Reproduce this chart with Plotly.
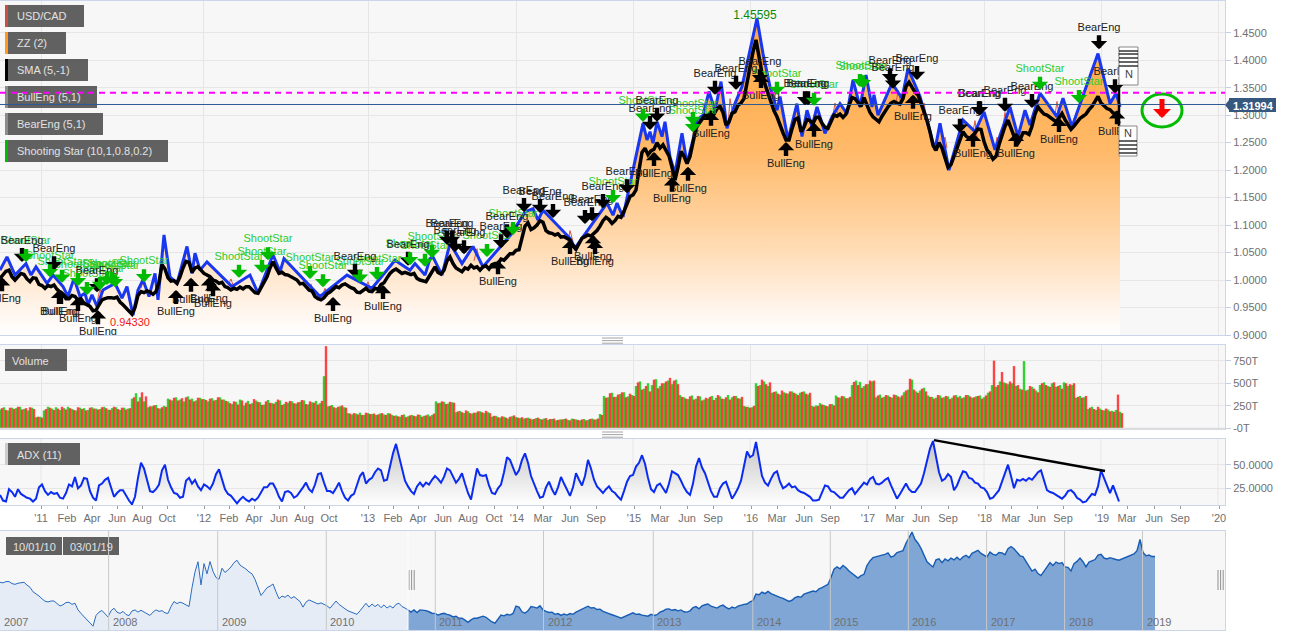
import plotly.graph_objects as go

W, H, PR = 1295, 631, 1225

# ---- time slots (bar positions) ----
tick_slots = [41,67,92,117,142,167,204,229,254,279,304,329,368,393,418,443,468,494,517,543,570,596,634,660,687,713,751,777,804,830,868,895,921,948,985,1011,1037,1063,1102,1127,1154,1180,1219]
tick_labels = ["'11","Feb","Apr","Jun","Aug","Oct","'12","Feb","Apr","Jun","Aug","Oct","'13","Feb","Apr","Jun","Aug","Oct","'14","Mar","Jun","Sep","'15","Mar","Jun","Sep","'16","Mar","Jun","Sep","'17","Mar","Jun","Sep","'18","Mar","Jun","Sep","'19","Mar","Jun","Sep","'20"]
year_slots = [41,203.5,368,516.7,633,750,867,984,1101,1218]

# ---- ZigZag ----
zz_x = [0,7,15,26,31,36,47,53,63,68,74,80,85,88,92,97,103,115,122,127,133,138,143,149,155,158,164,170,177,187,192,195,200,207,232,250,258,273,280,284,320,347,372,395,410,415,425,430,
433,442,450,462,473,483,512,525,533,538,543,570,575,607,613,617,623,643,647,650,653,657,662,665,670,675,682,687,693,697,703,709,715,721,727,735,742,757,763,770,777,780,788,797,802,807,812,817,825,832,840,847,853,860,
866,872,874,878,892,902,908,920,935,940,949,963,975,984,995,1010,1018,1025,1030,1040,1057,1063,1072,1098,1110,1116,1120]
zz_y = [1.018,1.042,1.009,1.030,1.009,1.024,0.994,1.009,0.988,0.970,1.003,0.970,0.976,0.955,0.973,0.952,0.982,0.994,0.967,0.988,0.936,0.982,1.000,0.970,1.012,0.964,1.082,1.006,0.994,1.061,1.012,1.049,1.018,1.033,0.988,1.009,0.976,1.046,1.015,1.039,0.970,1.009,0.985,1.036,1.018,1.030,1.009,1.039,
1.042,1.009,1.067,1.030,1.061,1.024,1.085,1.124,1.130,1.109,1.127,1.076,1.058,1.140,1.118,1.140,1.115,1.285,1.255,1.270,1.249,1.288,1.261,1.288,1.224,1.194,1.267,1.212,1.255,1.291,1.300,1.343,1.309,1.361,1.276,1.321,1.352,1.476,1.412,1.352,1.309,1.334,1.255,1.321,1.261,1.309,1.279,1.315,1.267,1.297,1.321,1.303,1.364,1.315,
1.373,1.315,1.337,1.300,1.358,1.331,1.385,1.334,1.237,1.285,1.200,1.291,1.270,1.306,1.237,1.315,1.261,1.309,1.282,1.340,1.297,1.331,1.279,1.412,1.321,1.340,1.315]

# ---- SMA, one reading every 3 slots ----
sma_y = [1.003,1.010,1.016,1.018,1.006,1.000,1.005,1.012,1.010,1.002,0.997,1.004,1.003,0.992,0.990,0.985,0.990,0.988,0.991,0.983,0.978,0.974,0.966,0.966,0.972,0.970,0.963,0.966,0.958,0.955,0.952,0.944,0.945,0.955,0.964,0.966,0.968,0.968,0.967,0.969,0.960,0.955,0.950,0.944,0.938,0.950,0.972,0.979,0.977,0.980,0.978,0.974,0.979,0.996,1.028,1.020,1.004,0.998,0.999,0.994,1.006,1.022,1.034,1.032,1.014,1.022,1.024,1.018,1.012,1.009,1.006,1.000,0.998,0.994,0.996,0.988,0.986,0.982,0.985,0.983,0.987,0.984,0.988,0.988,0.982,0.977,0.976,0.986,0.996,1.006,1.022,1.033,1.022,1.012,1.014,1.010,1.009,1.006,1.002,1.000,0.993,0.994,0.988,0.982,0.980,0.970,0.966,0.964,0.968,0.975,0.978,0.983,0.988,0.986,0.991,0.993,0.989,0.986,0.984,0.978,0.977,0.982,0.985,0.980,0.979,0.985,0.983,0.992,0.995,1.004,1.012,1.017,1.020,1.016,1.012,1.014,1.012,1.010,1.012,1.003,1.000,0.998,0.997,1.006,1.016,1.024,1.014,1.011,1.018,1.035,1.042,1.030,1.022,1.018,1.015,1.022,1.020,1.027,1.022,1.024,1.018,1.024,1.026,1.020,1.028,1.030,1.030,1.038,1.036,1.042,1.048,1.048,1.054,1.055,1.080,1.098,1.104,1.092,1.095,1.100,1.108,1.105,1.090,1.086,1.085,1.082,1.084,1.078,1.079,1.076,1.073,1.062,1.056,1.066,1.076,1.079,1.082,1.080,1.085,1.090,1.098,1.108,1.114,1.110,1.103,1.108,1.116,1.114,1.125,1.140,1.152,1.155,1.164,1.200,1.232,1.240,1.228,1.235,1.238,1.250,1.240,1.246,1.235,1.226,1.205,1.182,1.205,1.234,1.225,1.212,1.225,1.250,1.276,1.285,1.292,1.300,1.300,1.306,1.302,1.312,1.316,1.305,1.282,1.288,1.303,1.306,1.318,1.322,1.330,1.360,1.385,1.415,1.437,1.405,1.376,1.356,1.340,1.325,1.308,1.297,1.280,1.268,1.255,1.255,1.275,1.292,1.295,1.270,1.278,1.292,1.290,1.285,1.296,1.296,1.285,1.278,1.276,1.290,1.300,1.298,1.302,1.296,1.302,1.318,1.332,1.330,1.322,1.316,1.332,1.320,1.305,1.297,1.292,1.288,1.298,1.308,1.315,1.322,1.325,1.322,1.320,1.330,1.352,1.360,1.352,1.342,1.337,1.322,1.305,1.291,1.270,1.245,1.236,1.250,1.240,1.220,1.205,1.210,1.225,1.237,1.255,1.270,1.262,1.258,1.260,1.268,1.275,1.274,1.252,1.237,1.230,1.220,1.225,1.246,1.262,1.280,1.291,1.278,1.262,1.246,1.255,1.268,1.268,1.265,1.280,1.302,1.315,1.308,1.302,1.300,1.296,1.292,1.288,1.295,1.303,1.292,1.282,1.274,1.280,1.288,1.294,1.298,1.302,1.310,1.316,1.325,1.334,1.322,1.316,1.312,1.310,1.304,1.303,1.285]

# ---- thin price line, where it shows past the others ----
price_x = [97,100,103,None,141,144,147,None,228,231,234,None,308,311,314,None,322,325,328,None,365,368,371,None,474,477,480,None,568,570,573,None,728,730,733,None,833,835,838,None,896,898,901,None,915,917,920,None,922,924,926,None,943,945,947,None,973,975,977,None,995,997,999,None,1003,1005,1007,None,1055,1057,1059]
price_y = [.958,.985,.962,None,.985,1.003,.978,None,.99,1.002,.985,None,.985,.993,.975,None,.97,.985,.97,None,.985,.997,.98,None,1.035,1.057,1.03,None,1.07,1.09,1.07,None,1.28,1.33,1.30,None,1.30,1.322,1.30,None,1.32,1.345,1.32,None,1.335,1.35,1.335,None,1.30,1.322,1.30,None,1.245,1.26,1.24,None,1.27,1.29,1.26,None,1.24,1.26,1.24,None,1.28,1.305,1.28,None,1.30,1.325,1.30]

# ---- candlestick signals: slot and price at the arrow tip ----
bear_x = [22,54,97,355,408,447,452,455,464,501,507,524,540,553,585,592,603,627,650,657,715,736,760,805,808,890,893,917,960,979,980,1005,1032,1099,1115]
bear_y = [1.033,1.018,0.978,1.004,1.026,1.064,1.064,1.051,1.047,1.058,1.076,1.124,1.122,1.113,1.102,1.107,1.131,1.158,1.273,1.288,1.337,1.346,1.358,1.318,1.318,1.360,1.348,1.364,1.268,1.300,1.300,1.306,1.313,1.420,1.340]
bull_x = [2,59,61,78,98,176,191,209,213,333,383,498,570,593,595,654,672,688,711,761,786,814,913,973,1016,1059,1117]
bull_y = [1.005,0.982,0.982,0.969,0.945,0.982,1.004,1.005,0.996,0.969,0.991,1.036,1.073,1.082,1.073,1.233,1.187,1.206,1.306,1.375,1.251,1.286,1.337,1.268,1.268,1.295,1.309]
shoot_x = [26,50,62,78,87,100,107,112,115,144,239,262,268,310,323,360,377,410,425,432,487,513,613,643,693,693,777,814,860,863,1040,1079]
shoot_y = [1.033,1.005,0.995,0.989,0.973,0.982,0.991,0.991,0.987,0.996,1.004,1.013,1.036,1.002,0.987,0.995,1.000,1.027,1.024,1.040,1.042,1.082,1.140,1.288,1.282,1.269,1.337,1.317,1.351,1.349,1.346,1.322]

# ---- volume (T) ----
vol_down = [225,205,230,215,240,210,225,235,215,130,
120,215,230,205,220,240,210,225,205,235,
215,200,230,220,210,235,225,205,240,215,
230,210,225,345,300,400,355,245,255,225,
235,240,320,340,310,335,345,320,300,340,
325,315,330,310,345,320,305,280,300,265,
310,285,270,325,295,260,300,285,275,320,
260,295,305,280,290,315,270,300,285,265,
305,910,250,235,240,255,230,165,170,155,
150,175,160,165,155,170,150,165,140,135,
150,125,145,140,155,130,145,135,165,280,
300,270,295,285,190,180,200,170,175,190,
180,195,170,140,125,135,120,130,145,120,
125,115,110,105,120,100,115,105,110,95,
100,110,90,105,95,100,90,105,100,110,
150,340,390,350,375,400,345,385,360,510,
430,470,410,540,445,500,520,560,530,490,
350,330,355,320,360,310,340,350,315,370,
330,345,320,360,335,350,240,230,250,470,
540,490,510,405,385,420,390,410,395,370,
405,385,395,240,250,265,250,270,255,345,
360,335,350,515,480,450,490,530,530,365,
340,370,350,375,355,365,420,550,430,395,
440,410,350,330,370,340,360,325,365,345,
335,370,355,345,360,330,365,410,750,480,
625,500,520,690,480,430,420,470,440,400,
500,480,460,510,470,440,500,490,500,350,
340,360,230,215,240,205,220,190,185,375,
170]
vol_up = [210,235,200,230,225,240,215,200,230,125,
130,200,240,220,235,205,225,240,215,200,
230,225,205,235,220,215,240,210,225,235,
205,230,220,330,390,345,300,235,245,260,
220,250,330,310,345,320,300,355,330,310,
340,325,300,335,315,345,320,300,270,295,
320,255,305,280,310,290,265,315,280,295,
310,270,285,300,275,295,310,265,290,305,
280,578,245,260,225,245,235,170,155,165,
175,150,170,160,150,165,155,170,150,145,
130,155,135,150,135,150,140,155,150,300,
285,295,275,290,180,195,170,190,165,175,
190,170,180,130,140,120,130,110,135,125,
115,110,120,100,115,105,110,95,105,90,
100,105,95,110,100,90,105,95,110,100,
160,360,345,395,350,380,400,355,370,470,
520,440,500,480,545,470,500,530,490,540,
370,345,325,365,330,355,320,330,360,340,
355,325,370,345,360,330,250,240,235,500,
480,520,470,395,410,375,400,385,410,385,
395,410,375,250,255,280,260,245,270,365,
340,355,335,480,530,515,470,490,520,345,
375,350,365,340,370,345,400,430,540,410,
420,450,365,350,340,365,345,355,340,370,
360,345,370,340,355,365,345,395,480,460,
520,510,490,500,470,440,745,430,460,420,
480,510,470,500,460,480,510,470,480,340,
360,345,215,240,205,220,200,210,195,205,
185]

# ---- ADX, one reading every 3 slots ----
adx_y = [18,12,11,24,21,16,24,19,17,15,14,11,14,26,29,22,18,21,19,20,15,14,20,29,27,37,25,28,36,35,22,15,12,28,30,34,36,25,16,20,23,23,17,12,8,16,36,52,46,33,22,21,24,29,44,50,34,26,20,19,15,16,33,36,30,34,27,23,29,27,24,30,40,45,33,24,19,17,13,9,13,16,13,11,14,12,15,20,26,26,30,30,24,16,11,21,22,20,15,17,21,26,31,24,21,29,40,41,31,22,22,20,25,31,22,15,12,17,19,28,38,42,30,34,36,42,46,44,33,34,48,62,72,58,44,33,27,22,19,27,31,27,31,29,34,38,35,31,37,46,44,37,31,35,41,30,20,13,30,46,39,38,39,28,20,19,25,29,42,58,55,47,39,44,55,62,52,38,29,22,15,16,26,32,24,18,26,37,30,23,17,26,41,34,28,38,55,46,34,27,24,20,24,27,22,20,16,13,22,32,38,39,48,52,60,
51,36,24,21,28,30,25,20,30,43,41,39,33,26,21,18,30,48,57,47,41,32,22,16,16,25,30,32,22,14,19,25,33,50,64,58,60,74,54,38,31,28,35,41,43,32,25,27,30,26,27,23,21,20,18,16,12,12,13,21,28,27,22,21,18,15,15,19,23,25,19,23,27,31,29,35,37,30,29,31,34,36,28,20,14,19,25,30,24,21,21,26,30,41,55,67,75,60,42,33,35,40,37,23,28,36,43,42,36,35,31,30,26,25,21,14,15,19,23,32,42,50,38,25,34,33,35,33,36,34,38,42,44,33,23,21,20,18,16,14,17,22,23,20,15,13,10,11,15,19,18,27,44,36,27,20,28,19,11]
adx_trend_x = [934,1105]
adx_trend_y = [76,43.3]

# ---- navigator (whole history), one reading every 3 slots ----
nav_y = [1.179,1.176,1.183,1.183,1.172,1.168,1.174,1.176,1.179,1.164,1.152,1.128,1.118,1.105,1.090,1.077,1.073,1.078,1.078,1.062,1.051,1.058,1.070,1.071,1.060,1.066,1.030,1.011,0.996,0.976,0.960,0.942,1.000,1.018,1.027,1.012,0.992,1.025,1.039,1.018,1.011,1.022,1.005,0.999,1.024,1.030,1.018,1.028,1.018,1.006,1.000,1.018,1.030,1.022,1.026,1.014,1.011,1.048,1.075,1.064,1.072,1.066,1.058,1.048,1.150,1.235,1.290,1.165,1.280,1.225,1.291,1.238,1.205,1.195,1.255,1.232,1.246,1.262,1.285,1.298,1.272,1.262,1.250,1.235,1.225,1.195,1.155,1.108,1.128,1.150,1.158,1.170,1.128,1.090,1.105,1.098,1.110,1.092,1.102,1.088,1.075,1.045,1.072,1.084,1.076,1.070,1.062,1.068,1.062,1.052,1.039,1.060,1.078,1.060,1.050,1.036,1.025,1.018,1.012,1.006,1.025,1.048,1.066,1.045,1.062,1.048,1.060,1.042,1.057,1.040,1.052,1.040,1.060,1.066,1.048,1.040,1.030,1.018,1.030,1.016,1.030,1.030,1.026,1.020,1.012,1.011,1.002,1.008,1.012,1.006,1.002,0.992,0.996,0.985,0.985,0.975,0.963,0.976,0.985,0.985,0.990,0.996,0.990,0.975,0.965,0.958,0.982,1.002,0.998,1.006,1.002,1.011,1.050,1.045,1.020,1.012,1.025,1.048,1.045,1.040,1.052,1.030,1.022,1.016,1.018,1.006,1.010,1.000,1.008,1.002,1.010,1.006,1.018,1.026,1.038,1.044,1.050,1.040,1.042,1.032,1.034,1.022,1.018,1.010,1.004,0.996,0.992,0.985,0.992,1.000,1.008,1.014,1.006,1.008,1.002,
1.000,0.996,1.006,1.000,1.004,1.018,1.024,1.034,1.035,1.028,1.032,1.025,1.030,1.020,1.018,1.025,1.042,1.048,1.036,1.052,1.058,1.062,1.050,1.045,1.040,1.050,1.056,1.044,1.035,1.045,1.040,1.050,1.056,1.060,1.062,1.074,1.080,1.115,1.112,1.126,1.118,1.130,1.118,1.110,1.104,1.098,1.092,1.086,1.076,1.082,1.096,1.102,1.098,1.115,1.120,1.128,1.132,1.128,1.144,1.150,1.160,1.168,1.205,1.250,1.262,1.252,1.270,1.258,1.240,1.226,1.215,1.202,1.215,1.222,1.270,1.295,1.312,1.318,1.322,1.326,1.330,1.338,1.315,1.322,1.340,1.345,1.350,1.390,1.420,1.450,1.410,1.390,1.362,1.330,1.290,1.275,1.262,1.300,1.306,1.285,1.305,1.295,1.310,1.300,1.315,1.300,1.316,1.325,1.312,1.335,1.345,1.352,1.335,1.325,1.316,1.342,1.330,1.325,1.340,1.338,1.328,1.360,1.372,1.360,1.340,1.322,1.318,1.290,1.262,1.240,1.250,1.226,1.215,1.240,1.262,1.285,1.270,1.288,1.280,1.285,1.262,1.260,1.240,1.280,1.292,1.310,1.290,1.262,1.288,1.296,1.302,1.326,1.330,1.310,1.305,1.312,1.305,1.302,1.298,1.305,1.312,1.316,1.326,1.332,1.350,1.410,1.340,1.322,1.326,1.318,1.318]
nav_year_slots = [108.6,217.7,326.3,435.3,543.5,653.3,752.8,830.3,908.3,986.6,1064.6,1142.5]
nav_years = ["2008","2009","2010","2011","2012","2013","2014","2015","2016","2017","2018","2019"]
nav_start = 408

main_ticks = [0.90,0.95,1.00,1.05,1.10,1.15,1.20,1.25,1.30,1.35,1.40,1.45]
vol_ticks = [0,250,500,750]
adx_ticks = [25,50]
resistance = 1.3408
last_price = 1.3194

STEP = 3
sma_x = [STEP * i for i in range(len(sma_y))]
adx_x = [STEP * i for i in range(len(adx_y))]
nav_x = [STEP * i for i in range(len(nav_y))]

# ---- helpers ----
FONT = "Liberation Sans"
def px(x): return x / W
def py(y): return 1 - y / H
def rect(x0, y0, x1, y1, fill, line=None, w=0):
    return dict(type="rect", xref="paper", yref="paper", x0=px(x0), x1=px(x1), y0=py(y0), y1=py(y1),
                fillcolor=fill, line=dict(color=line or fill, width=w), layer="above")
def hline(x0, x1, y, color="#000", w=1):
    return dict(type="line", xref="paper", yref="paper", x0=px(x0), x1=px(x1), y0=py(y), y1=py(y),
                line=dict(color=color, width=w), layer="above")
def vline(x, y0, y1, color="#000", w=1, dash="solid"):
    return dict(type="line", xref="paper", yref="paper", x0=px(x), x1=px(x), y0=py(y0), y1=py(y1),
                line=dict(color=color, width=w, dash=dash), layer="above")
def text(x, y, s, color, size=11, anchor="left"):
    return dict(xref="paper", yref="paper", x=px(x), y=py(y), text=s, showarrow=False, xanchor=anchor,
                yanchor="middle", font=dict(family=FONT, size=size, color=color))

fig = go.Figure()

# ---- main panel ----
fig.add_trace(go.Scatter(x=zz_x, y=zz_y, mode="none", fill="tozeroy",
    fillgradient=dict(type="vertical", start=1.476, stop=0.90,
        colorscale=[[0, "#ffa83f"], [0.415, "#ffb968"], [0.73, "#ffdcb5"], [0.92, "#fff5ec"], [1, "#ffffff"]]), hoverinfo="skip"))
fig.add_trace(go.Scatter(x=price_x, y=price_y, mode="lines", line=dict(color="#d9573c", width=1)))
fig.add_trace(go.Scatter(x=zz_x, y=zz_y, mode="lines", line=dict(color="#1a37f0", width=3)))
fig.add_trace(go.Scatter(x=sma_x, y=sma_y, mode="lines", line=dict(color="#000", width=3.5)))

UNIT = 0.55 / 302.3          # price per pixel on the main axis
lab_up = 21 * UNIT
fig.add_trace(go.Scatter(x=shoot_x, y=[v + lab_up for v in shoot_y], mode="text", text=["ShootStar"]*len(shoot_x),
    textfont=dict(family=FONT, size=11, color="#2ecc2e")))
fig.add_trace(go.Scatter(x=bear_x, y=[v + lab_up for v in bear_y], mode="text", text=["BearEng"]*len(bear_x),
    textfont=dict(family=FONT, size=11, color="#222")))
fig.add_trace(go.Scatter(x=bull_x, y=[v - 22*UNIT for v in bull_y], mode="text", text=["BullEng"]*len(bull_x),
    textfont=dict(family=FONT, size=11, color="#222")))
fig.add_trace(go.Scatter(x=[755, 130], y=[1.48, 0.9217], mode="text", text=["1.45595", "0.94330"],
    textfont=dict(family=FONT, size=[12, 11], color=["#0a8a0a", "#f01818"])))

anns = []
def arrow(x, y, ay, color, w=4.4, size=0.62):
    anns.append(dict(x=x, y=y, xref="x", yref="y", ax=0, ay=ay, text=" ", font=dict(size=1), showarrow=True, arrowhead=1,
                     arrowsize=size, arrowwidth=w, arrowcolor=color, standoff=0, startstandoff=0))
for x, y in zip(bear_x, bear_y): arrow(x, y, -16, "#000")
for x, y in zip(bull_x, bull_y): arrow(x, y, 16, "#000")
for x, y in zip(shoot_x, shoot_y): arrow(x, y, -15, "#00bb00")
arrow(1162, 1.2948, -21, "#ff0000", w=5, size=0.6)

# ---- volume ----
fig.add_trace(go.Bar(x=[4*i for i in range(len(vol_up))], y=vol_up, width=2.4, xaxis="x2", yaxis="y2",
                     marker=dict(color="#00c800", line_width=0), opacity=0.8))
fig.add_trace(go.Bar(x=[2 + 4*i for i in range(len(vol_down))], y=vol_down, width=2.4, xaxis="x2", yaxis="y2",
                     marker=dict(color="#ff0000", line_width=0), opacity=0.72))

# ---- ADX ----
fig.add_trace(go.Scatter(x=adx_x, y=adx_y, mode="none", fill="tozeroy", xaxis="x3", yaxis="y3",
    fillgradient=dict(type="vertical", start=76, stop=7.3,
        colorscale=[[0, "#c4c4c4"], [1, "#ffffff"]])))
fig.add_trace(go.Scatter(x=adx_x, y=adx_y, mode="lines", xaxis="x3", yaxis="y3", line=dict(color="#0b2cf0", width=2)))
fig.add_trace(go.Scatter(x=adx_trend_x, y=adx_trend_y, mode="lines", xaxis="x3", yaxis="y3", line=dict(color="#000", width=2.5)))

# ---- navigator ----
split = next(i for i, v in enumerate(nav_x) if v >= nav_start)
fig.add_trace(go.Scatter(x=nav_x[:split+1], y=nav_y[:split+1], mode="lines", fill="tozeroy", fillcolor="#e6ecf6",
    xaxis="x4", yaxis="y4", line=dict(color="#2a6cc0", width=1)))
fig.add_trace(go.Scatter(x=nav_x[split:], y=nav_y[split:], mode="lines", fill="tozeroy", fillcolor="#7fa6d4",
    xaxis="x4", yaxis="y4", line=dict(color="#175cb4", width=1.4)))

# ---- shapes: labels, flags, handles ----
shapes = []
tags = [("USD/CAD", 84, 5, "#c9503c"), ("ZZ (2)", 66, 32, "#ff9a1e"), ("SMA (5,-1)", 88, 59, "#000000"),
        ("BullEng (5,1)", 97, 86, "#8c8c8c"), ("BearEng (5,1)", 103, 113, "#8c8c8c"),
        ("Shooting Star (10,1,0.8,0.2)", 168, 140, "#00bb00")]
for name, right, top, col in tags:
    shapes.append(rect(8, top, right, top + 22, "rgba(70,70,70,0.85)"))
    shapes.append(rect(5, top, 8, top + 22, col))
    anns.append(text(15, top + 11, name, "#e2e2e2"))
shapes.append(rect(5, 349, 67, 371, "rgba(70,70,70,0.85)"))
anns.append(text(10, 361, "Volume", "#e2e2e2"))
shapes.append(rect(5, 443, 8, 465, "#cccccc"))
shapes.append(rect(8, 443, 80, 465, "rgba(70,70,70,0.85)"))
anns.append(text(15, 455, "ADX (11)", "#e2e2e2"))
shapes.append(rect(6, 537, 62, 555, "rgba(70,70,70,0.85)"))
shapes.append(rect(63, 537, 119, 555, "rgba(70,70,70,0.85)"))
anns.append(text(34, 547, "10/01/10", "#e2e2e2", anchor="center"))
anns.append(text(91, 547, "03/01/19", "#e2e2e2", anchor="center"))

# last price tag
shapes.append(rect(1229, 98, 1276, 112, "#36587e"))
shapes.append(dict(type="path", xref="paper", yref="paper", layer="above", fillcolor="#36587e", line_width=0,
    path=f"M {px(1229)} {py(100)} L {px(1225)} {py(105)} L {px(1229)} {py(110)} Z"))
anns.append(text(1253, 105.5, "<b>1.31994</b>", "#ffffff", 11, "center"))
# signal circle
shapes.append(dict(type="circle", xref="paper", yref="paper", x0=px(1142), x1=px(1182), y0=py(127), y1=py(94),
                   line=dict(color="#00bb00", width=3), layer="above"))
# news flags
shapes.append(vline(1119, 47, 85, "#555", 1, "dot"))
shapes.append(vline(1119, 85, 126, "#000", 2.5))
shapes.append(rect(1119, 47, 1138, 85, "#ffffff", "#888888", 1))
for y in (51, 54, 58, 62, 66):
    shapes.append(hline(1119, 1138, y, "#000", 1.2))
anns.append(text(1129, 74, "N", "#444", 11, "center"))
shapes.append(rect(1119, 126, 1137, 156, "#ffffff", "#888888", 1))
for y in (141, 145, 149, 153):
    shapes.append(hline(1119, 1137, y, "#000", 1.2))
anns.append(text(1128, 132.5, "N", "#444", 11, "center"))
# panel resize grips
for base in (338, 432):
    for d in (0, 2.6, 5.2):
        shapes.append(hline(602, 623, base + d, "#8c8c8c", 0.8))
# navigator handles
for hx in (409, 1218):
    for d in (0, 2.6, 5.2):
        shapes.append(vline(hx + d, 570, 590, "#777", 0.8))
shapes.append(hline(0, 1225, 428.8, "#dcdcdc", 2))
shapes.append(vline(408, 531, 630, "#ffffff", 1))
# resistance + last price
shapes.append(dict(type="line", xref="x", yref="y", x0=0, x1=PR, y0=last_price, y1=last_price,
                   line=dict(color="#2f5a96", width=1), layer="above"))
shapes.append(dict(type="line", xref="x", yref="y", x0=0, x1=PR, y0=resistance, y1=resistance,
                   line=dict(color="#ff00ff", width=2, dash="6px,5px"), layer="above"))
# gridlines on panels with month ticks
for s in year_slots:
    shapes.append(dict(type="line", xref="x3", yref="y3 domain", x0=s, x1=s, y0=0, y1=1,
                       line=dict(color="#e6e6e6", width=1), layer="below"))
for s in nav_year_slots:
    shapes.append(dict(type="line", xref="x4", yref="y4 domain", x0=s, x1=s, y0=0, y1=1,
                       line=dict(color="#c8c8c8", width=1), layer="above"))
anns.append(dict(xref="x4", yref="paper", x=2, y=py(622), text="2007", showarrow=False, xanchor="left", yanchor="middle",
                 font=dict(family=FONT, size=11, color="#707070")))
for s, t in zip(nav_year_slots, nav_years):
    anns.append(dict(xref="x4", yref="paper", x=s + 2, y=py(622), text=t, showarrow=False, xanchor="left", yanchor="middle",
                     font=dict(family=FONT, size=11, color="#707070")))

BORDER = "#ccd6eb"
GRID = "#e6e6e6"
xdom = [0, PR / W]
xbase = dict(domain=xdom, range=[0, PR], showline=True, mirror=True, linecolor=BORDER, zeroline=False, showticklabels=False)
ybase = dict(side="right", showline=True, mirror=True, linecolor=BORDER, zeroline=False, gridcolor=GRID,
             ticks="outside", ticklen=5, tickcolor="#c4cfe0", tickfont=dict(family=FONT, size=11, color="#707070"))
fig.update_layout(
    width=W, height=H, margin=dict(l=0, r=0, t=0, b=0, pad=0, autoexpand=False), paper_bgcolor="#ffffff", plot_bgcolor="#f7f7f7",
    showlegend=False, barmode="overlay", hovermode=False, font=dict(family=FONT),
    xaxis=dict(xbase, anchor="y", tickmode="array", tickvals=year_slots, showgrid=True, gridcolor=GRID, ticks=""),
    yaxis=dict(ybase, domain=[py(335), py(1)], range=[0.90, 1.5077], tickmode="array", tickvals=main_ticks,
               ticktext=[f"{v:.4f}" for v in main_ticks], anchor="x"),
    xaxis2=dict(xbase, anchor="y2", tickmode="array", tickvals=year_slots, showgrid=True, gridcolor=GRID, ticks=""),
    yaxis2=dict(ybase, domain=[py(428.5), py(345)], range=[0, 923], tickmode="array", tickvals=vol_ticks,
                ticktext=["-0T", "250T", "500T", "750T"], anchor="x2"),
    xaxis3=dict(xbase, anchor="y3", tickmode="array", tickvals=tick_slots, ticktext=tick_labels, showticklabels=True,
                showgrid=False, ticks="outside", ticklen=3, tickcolor="#999", tickangle=0,
                tickfont=dict(family=FONT, size=11, color="#707070")),
    yaxis3=dict(ybase, domain=[py(505), py(438.7)], range=[7.3, 77.5], tickmode="array", tickvals=adx_ticks,
                ticktext=["25.0000", "50.0000"], anchor="x3"),
    xaxis4=dict(xbase, anchor="y4", showgrid=False, ticks=""),
    yaxis4=dict(domain=[py(630), py(531)], range=[0.9215, 1.456], showgrid=False, showticklabels=False, zeroline=False,
                showline=True, mirror=True, linecolor=BORDER, ticks="", anchor="x4", side="right"),
    shapes=shapes, annotations=anns,
)
fig.write_html("out.html", config=dict(displayModeBar=False),
               post_script="document.body.style.margin='0';document.body.style.overflow='hidden';")
